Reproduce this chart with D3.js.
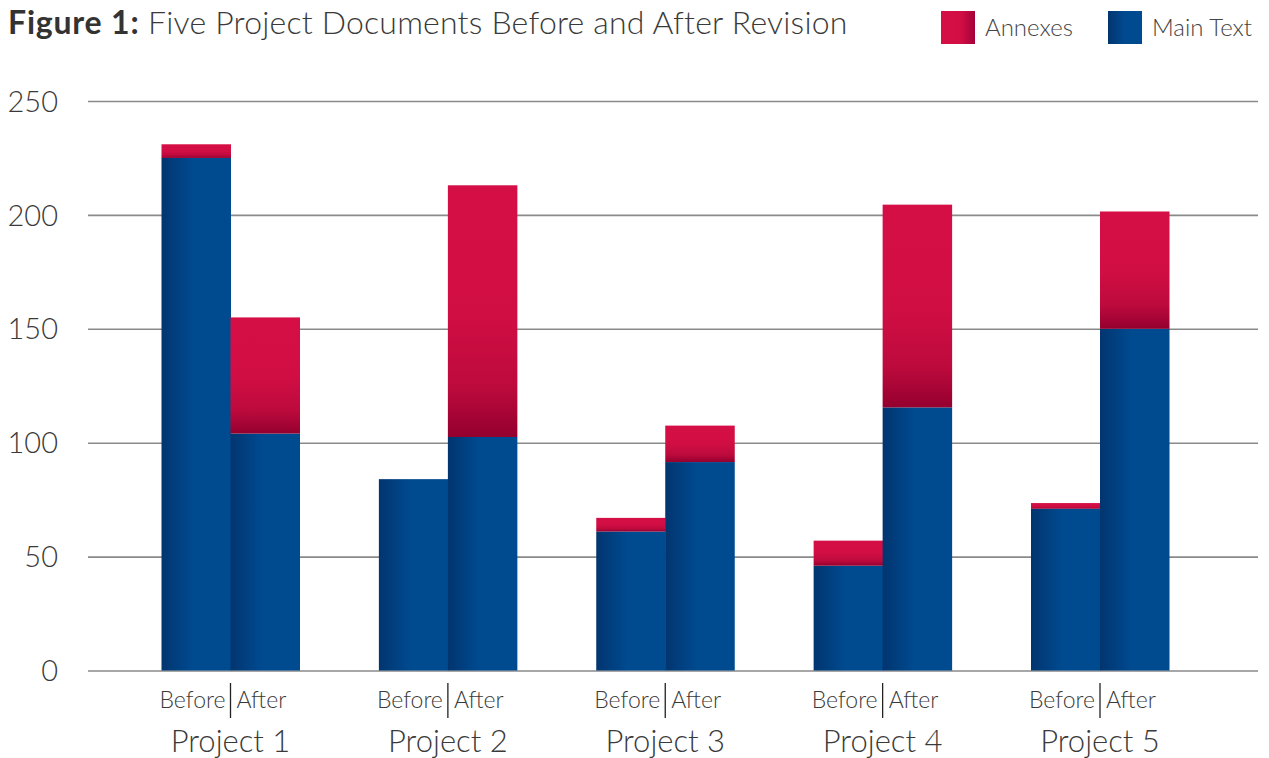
<!DOCTYPE html>
<html>
<head>
<meta charset="utf-8">
<script src="https://cdn.jsdelivr.net/npm/d3@7"></script>
<style>
  body { margin: 0; background: #fff; }
  text { font-family: Lato, "Open Sans", sans-serif; fill: #3a3a3a; font-weight: 300; }
  .grid line { stroke: #8a8a8a; stroke-width: 1.6; }
  .grid .domain { display: none; }
</style>
</head>
<body>
<div id="chart"></div>
<script>
var projects = ["Project 1", "Project 2", "Project 3", "Project 4", "Project 5"];
var phases = ["Before", "After"];
var beforeMain = [225, 84, 61, 46, 71];
var beforeAnnex = [6, 0, 6, 11, 2.5];
var afterMain = [104, 102.5, 91.5, 115.5, 150];
var afterAnnex = [51, 110.5, 16, 89, 51.5];
var yTicks = [0, 50, 100, 150, 200, 250];

var width = 1269, height = 758;

var svg = d3.select("#chart").append("svg")
    .attr("width", width)
    .attr("height", height);

var defs = svg.append("defs");

// red annex gradient, darkening toward the bottom
var redGrad = defs.append("linearGradient")
    .attr("id", "redGrad")
    .attr("x1", 0).attr("y1", 0).attr("x2", 0).attr("y2", 1);
redGrad.append("stop").attr("offset", "0").attr("stop-color", "#d50f45");
redGrad.append("stop").attr("offset", "0.5").attr("stop-color", "#d10e44");
redGrad.append("stop").attr("offset", "0.8").attr("stop-color", "#bd0a3d");
redGrad.append("stop").attr("offset", "1").attr("stop-color", "#94002f");

// blue main text gradient, darker on the left edge
var blueGrad = defs.append("linearGradient")
    .attr("id", "blueGrad")
    .attr("x1", 0).attr("y1", 0).attr("x2", 1).attr("y2", 0);
blueGrad.append("stop").attr("offset", "0").attr("stop-color", "#02356f");
blueGrad.append("stop").attr("offset", "0.45").attr("stop-color", "#004a90");
blueGrad.append("stop").attr("offset", "1").attr("stop-color", "#004a90");

var y = d3.scaleLinear()
    .domain([0, 250])
    .range([670.5, 101]);

var x = d3.scalePoint()
    .domain(projects)
    .range([230.5, 1100]);

var xPhase = d3.scaleBand()
    .domain(phases)
    .range([-69, 69])
    .padding(0);

// gridlines + y labels
var gridLeft = 88, gridRight = 1258;
var yAxis = d3.axisLeft(y)
    .tickValues(yTicks)
    .tickSize(gridRight - gridLeft)
    .tickPadding(30);

svg.append("g")
    .attr("class", "grid")
    .attr("transform", "translate(" + gridRight + ",0)")
    .call(yAxis)
    .selectAll("text")
    .style("font-size", "29px")
    .style("font-weight", 300)
    .style("fill", "#3a3a3a")
    .attr("dy", "0.35em");

// build stacked rows
var rows = [];
projects.forEach(function(p, i) {
  rows.push({project: p, phase: "Before", main: beforeMain[i], annex: beforeAnnex[i]});
  rows.push({project: p, phase: "After", main: afterMain[i], annex: afterAnnex[i]});
});

var bars = svg.append("g").selectAll("g")
    .data(rows)
    .enter().append("g")
    .attr("transform", function(d) { return "translate(" + (x(d.project) + xPhase(d.phase)) + ",0)"; });

bars.append("rect")
    .attr("x", 0)
    .attr("width", xPhase.bandwidth() + 0.5)
    .attr("y", function(d) { return y(d.main); })
    .attr("height", function(d) { return y(0) - y(d.main); })
    .attr("fill", "url(#blueGrad)");

bars.filter(function(d) { return d.annex > 0; })
  .append("rect")
    .attr("x", 0)
    .attr("width", xPhase.bandwidth() + 0.5)
    .attr("y", function(d) { return y(d.main + d.annex); })
    .attr("height", function(d) { return y(d.main) - y(d.main + d.annex); })
    .attr("fill", "url(#redGrad)");

// x labels
var labels = svg.append("g").selectAll("g")
    .data(projects)
    .enter().append("g")
    .attr("transform", function(d) { return "translate(" + x(d) + ",0)"; });

labels.append("text")
    .attr("x", -5).attr("y", 708)
    .attr("text-anchor", "end")
    .style("font-size", "23px")
    .text("Before");

labels.append("text")
    .attr("x", 6).attr("y", 708)
    .attr("text-anchor", "start")
    .style("font-size", "23px")
    .text("After");

labels.append("line")
    .attr("x1", 0).attr("x2", 0)
    .attr("y1", 683).attr("y2", 718)
    .attr("stroke", "#222")
    .attr("stroke-width", 1.3);

labels.append("text")
    .attr("x", 0).attr("y", 752)
    .attr("text-anchor", "middle")
    .style("font-size", "31px")
    .text(function(d) { return d; });

// title
var title = svg.append("text")
    .attr("x", 8).attr("y", 34)
    .style("font-size", "32px");
title.append("tspan")
    .style("font-weight", "bold")
    .style("fill", "#333")
    .style("letter-spacing", "0.8px")
    .text("Figure 1: ");
title.append("tspan")
    .style("fill", "#3a3a3a")
    .style("font-weight", 300)
    .style("letter-spacing", "0.2px")
    .text("Five Project Documents Before and After Revision");

// legend
var legendItems = [
  {label: "Annexes", fill: "url(#redGradL)", x: 941},
  {label: "Main Text", fill: "url(#blueGradL)", x: 1108}
];
var redL = defs.append("linearGradient").attr("id", "redGradL");
redL.append("stop").attr("offset", "0").attr("stop-color", "#d50f45");
redL.append("stop").attr("offset", "0.6").attr("stop-color", "#d10e44");
redL.append("stop").attr("offset", "1").attr("stop-color", "#a3003a");
var blueL = defs.append("linearGradient").attr("id", "blueGradL");
blueL.append("stop").attr("offset", "0").attr("stop-color", "#02356f");
blueL.append("stop").attr("offset", "0.5").attr("stop-color", "#004a90");
blueL.append("stop").attr("offset", "1").attr("stop-color", "#004a90");

var legend = svg.append("g").selectAll("g")
    .data(legendItems)
    .enter().append("g")
    .attr("transform", function(d) { return "translate(" + d.x + ",11)"; });

legend.append("rect")
    .attr("width", 34).attr("height", 33)
    .attr("fill", function(d) { return d.fill; });

legend.append("text")
    .attr("x", 44).attr("y", 25)
    .style("font-size", "24px")
    .style("fill", "#444")
    .text(function(d) { return d.label; });
</script>
</body>
</html>
